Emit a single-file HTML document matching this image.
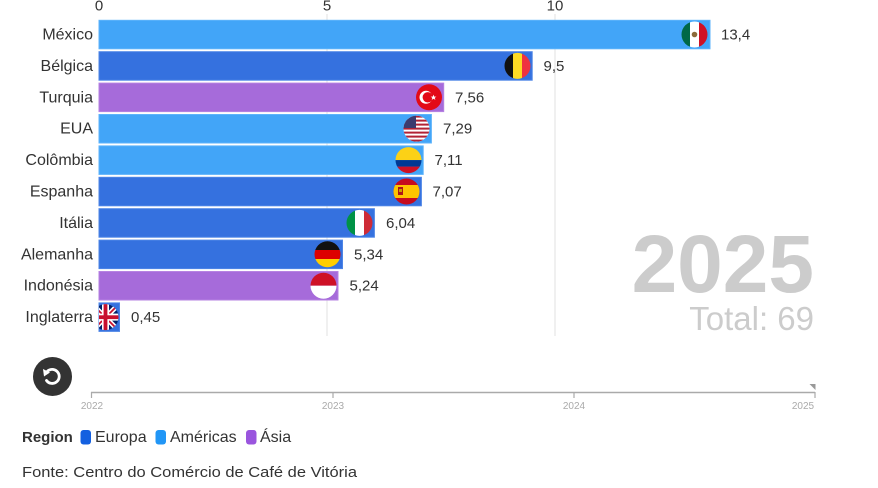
<!DOCTYPE html>
<html>
<head>
<meta charset="utf-8">
<style>
html,body{margin:0;padding:0;background:#fff;}
svg{display:block;font-family:"Liberation Sans",sans-serif;}
</style>
</head>
<body>
<svg width="878" height="488" viewBox="0 0 878 488" xmlns="http://www.w3.org/2000/svg">
<defs>
<clipPath id="c0"><circle cx="694.5" cy="34.5" r="13"/></clipPath>
<clipPath id="c1"><circle cx="517.5" cy="65.9" r="13"/></clipPath>
<clipPath id="c2"><circle cx="429" cy="97.3" r="13"/></clipPath>
<clipPath id="c3"><circle cx="416.5" cy="128.7" r="13"/></clipPath>
<clipPath id="c4"><circle cx="408.5" cy="160.1" r="13"/></clipPath>
<clipPath id="c5"><circle cx="406.5" cy="191.5" r="13"/></clipPath>
<clipPath id="c6"><circle cx="359.5" cy="222.9" r="13"/></clipPath>
<clipPath id="c7"><circle cx="327.5" cy="254.3" r="13"/></clipPath>
<clipPath id="c8"><circle cx="323.5" cy="285.7" r="13"/></clipPath>
<clipPath id="c9"><rect x="99" y="303" width="21" height="30"/></clipPath>
<clipPath id="c9b"><circle cx="105.5" cy="317.1" r="13"/></clipPath>
</defs>

<!-- gridlines -->
<line x1="327" y1="14" x2="327" y2="336" stroke="#e2e2e2" stroke-width="1"/>
<line x1="555" y1="14" x2="555" y2="336" stroke="#e2e2e2" stroke-width="1"/>

<!-- top axis -->
<g font-size="15" fill="#333" text-anchor="middle">
<text x="99" y="10.5">0</text>
<text x="327" y="10.5">5</text>
<text x="555" y="10.5">10</text>
</g>

<!-- bars -->
<g stroke-width="1">
<rect x="99" y="20.3" width="611" height="28.5" fill="#42a5f8" stroke="#5db3fb"/>
<rect x="99" y="51.7" width="433.2" height="28.5" fill="#3571df" stroke="#4d85e6"/>
<rect x="99" y="83.1" width="344.7" height="28.5" fill="#a66bda" stroke="#b682e2"/>
<rect x="99" y="114.5" width="332.4" height="28.5" fill="#42a5f8" stroke="#5db3fb"/>
<rect x="99" y="145.9" width="324.2" height="28.5" fill="#42a5f8" stroke="#5db3fb"/>
<rect x="99" y="177.3" width="322.4" height="28.5" fill="#3571df" stroke="#4d85e6"/>
<rect x="99" y="208.7" width="275.4" height="28.5" fill="#3571df" stroke="#4d85e6"/>
<rect x="99" y="240.1" width="243.5" height="28.5" fill="#3571df" stroke="#4d85e6"/>
<rect x="99" y="271.5" width="239" height="28.5" fill="#a66bda" stroke="#b682e2"/>
<rect x="99" y="302.9" width="20.5" height="28.5" fill="#3571df" stroke="#4d85e6"/>
</g>

<!-- flags -->
<g clip-path="url(#c0)">
<rect x="681" y="21" width="9" height="27" fill="#006847"/>
<rect x="690" y="21" width="9" height="27" fill="#fff"/>
<rect x="699" y="21" width="9" height="27" fill="#ce1126"/>
<circle cx="694.5" cy="34.5" r="2.8" fill="#8c6a3a"/>
</g>
<g clip-path="url(#c1)">
<rect x="504" y="52" width="9" height="28" fill="#111"/>
<rect x="513" y="52" width="9" height="28" fill="#fdda24"/>
<rect x="522" y="52" width="9" height="28" fill="#ef3340"/>
</g>
<g clip-path="url(#c2)">
<rect x="415" y="84" width="28" height="28" fill="#e30a17"/>
<circle cx="426" cy="97.3" r="6.5" fill="#fff"/>
<circle cx="427.8" cy="97.3" r="5.2" fill="#e30a17"/>
<polygon points="433.5,94.6 434.3,96.6 436.4,96.6 434.7,97.9 435.4,99.9 433.5,98.7 431.7,99.9 432.3,97.9 430.6,96.6 432.7,96.6" fill="#fff"/>
</g>
<g clip-path="url(#c3)">
<rect x="403" y="115" width="28" height="28" fill="#fff"/>
<rect x="403" y="115.6" width="28" height="2" fill="#b22234"/>
<rect x="403" y="119.6" width="28" height="2" fill="#b22234"/>
<rect x="403" y="123.6" width="28" height="2" fill="#b22234"/>
<rect x="403" y="127.6" width="28" height="2" fill="#b22234"/>
<rect x="403" y="131.6" width="28" height="2" fill="#b22234"/>
<rect x="403" y="135.6" width="28" height="2" fill="#b22234"/>
<rect x="403" y="139.6" width="28" height="2" fill="#b22234"/>
<rect x="403" y="115" width="13" height="13" fill="#3c3b6e"/>
</g>
<g clip-path="url(#c4)">
<rect x="395" y="147" width="28" height="13.1" fill="#fcd116"/>
<rect x="395" y="160.1" width="28" height="6.5" fill="#003893"/>
<rect x="395" y="166.6" width="28" height="7" fill="#ce1126"/>
</g>
<g clip-path="url(#c5)">
<rect x="393" y="178" width="28" height="28" fill="#c60b1e"/>
<rect x="393" y="185" width="28" height="13" fill="#ffc400"/>
<rect x="398" y="187" width="5" height="8" fill="#ad1519"/>
<rect x="399" y="189" width="3" height="3" fill="#c8a000"/>
</g>
<g clip-path="url(#c6)">
<rect x="346" y="209" width="9" height="28" fill="#009246"/>
<rect x="355" y="209" width="9" height="28" fill="#fff"/>
<rect x="364" y="209" width="9" height="28" fill="#ce2b37"/>
</g>
<g clip-path="url(#c7)">
<rect x="314" y="240" width="28" height="10" fill="#111"/>
<rect x="314" y="250" width="28" height="9" fill="#dd0000"/>
<rect x="314" y="259" width="28" height="10" fill="#ffce00"/>
</g>
<g clip-path="url(#c8)">
<rect x="310" y="272" width="28" height="13.7" fill="#ce1126"/>
<rect x="310" y="285.7" width="28" height="14" fill="#fff"/>
</g>
<g clip-path="url(#c9)">
<g clip-path="url(#c9b)">
<rect x="92" y="304" width="27" height="27" fill="#012169"/>
<line x1="92" y1="304" x2="119" y2="331" stroke="#fff" stroke-width="5"/>
<line x1="119" y1="304" x2="92" y2="331" stroke="#fff" stroke-width="5"/>
<line x1="92" y1="304" x2="119" y2="331" stroke="#c8102e" stroke-width="1.8"/>
<line x1="119" y1="304" x2="92" y2="331" stroke="#c8102e" stroke-width="1.8"/>
<rect x="92" y="313.6" width="27" height="7" fill="#fff"/>
<rect x="102" y="304" width="7" height="27" fill="#fff"/>
<rect x="92" y="315.3" width="27" height="3.8" fill="#c8102e"/>
<rect x="103.6" y="304" width="3.8" height="27" fill="#c8102e"/>
</g>
</g>

<!-- country labels -->
<g font-size="16" fill="#333" text-anchor="end">
<text x="93" y="39.5">México</text>
<text x="93" y="70.9">Bélgica</text>
<text x="93" y="102.3">Turquia</text>
<text x="93" y="133.7">EUA</text>
<text x="93" y="165.1">Colômbia</text>
<text x="93" y="196.5">Espanha</text>
<text x="93" y="227.9">Itália</text>
<text x="93" y="259.3">Alemanha</text>
<text x="93" y="290.7">Indonésia</text>
<text x="93" y="322.1">Inglaterra</text>
</g>

<!-- values -->
<g font-size="15" fill="#333">
<text x="721" y="39.5">13,4</text>
<text x="543.5" y="70.9">9,5</text>
<text x="455" y="102.3">7,56</text>
<text x="443" y="133.7">7,29</text>
<text x="434.5" y="165.1">7,11</text>
<text x="432.5" y="196.5">7,07</text>
<text x="386" y="227.9">6,04</text>
<text x="354" y="259.3">5,34</text>
<text x="349.5" y="290.7">5,24</text>
<text x="131" y="322.1">0,45</text>
</g>

<!-- year / total -->
<text x="814" y="292" font-size="82" font-weight="bold" fill="#cccccc" text-anchor="end">2025</text>
<text x="814" y="330" font-size="33" fill="#cccccc" text-anchor="end">Total: 69</text>

<!-- replay button -->
<circle cx="52.5" cy="376.5" r="19.5" fill="#333"/>
<path d="M 46.2 372.8 A 7 7 0 1 1 46.5 380.5" fill="none" stroke="#fff" stroke-width="2.8" stroke-linecap="round"/>
<polygon points="43,369 50,372.5 44,376.5" fill="#fff"/>

<!-- timeline -->
<line x1="91" y1="392.5" x2="815" y2="392.5" stroke="#aaa" stroke-width="1.5"/>
<g stroke="#aaa" stroke-width="1.2">
<line x1="91.5" y1="392" x2="91.5" y2="398"/>
<line x1="333" y1="392" x2="333" y2="398"/>
<line x1="574" y1="392" x2="574" y2="398"/>
<line x1="815" y1="392" x2="815" y2="398"/>
</g>
<polygon points="809.5,384 815.5,384 815.5,390" fill="#999"/>
<g font-size="10" fill="#aaa" text-anchor="middle">
<text x="92" y="409">2022</text>
<text x="333" y="409">2023</text>
<text x="574" y="409">2024</text>
<text x="803" y="409">2025</text>
</g>

<!-- legend -->
<text x="22" y="442" font-size="15" font-weight="bold" fill="#333">Region</text>
<rect x="80.5" y="430" width="10.5" height="14.5" rx="3" fill="#1460e0"/>
<text x="95" y="442" font-size="16" fill="#333">Europa</text>
<rect x="155.5" y="430" width="10.5" height="14.5" rx="3" fill="#2196f6"/>
<text x="170" y="442" font-size="16" fill="#333">Américas</text>
<rect x="246" y="430" width="10.5" height="14.5" rx="3" fill="#9a55de"/>
<text x="260" y="442" font-size="16" fill="#333">Ásia</text>

<!-- source -->
<text x="22" y="477" font-size="15" fill="#333" textLength="335" lengthAdjust="spacingAndGlyphs">Fonte: Centro do Comércio de Café de Vitória</text>
</svg>
</body>
</html>
